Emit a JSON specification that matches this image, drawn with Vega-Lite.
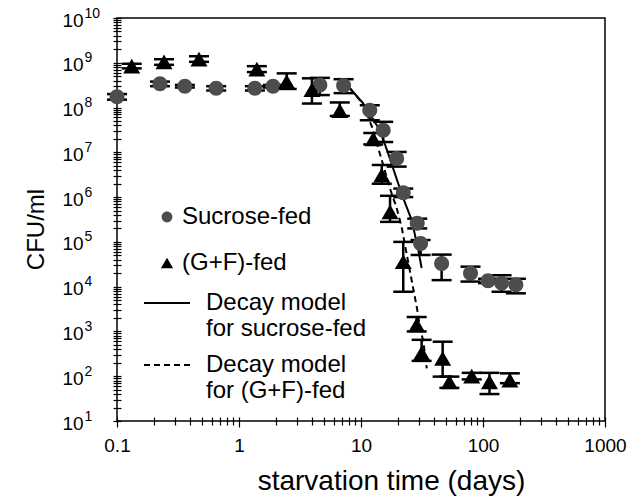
{
  "$schema": "https://vega.github.io/schema/vega-lite/v6.json",
  "width": 488,
  "height": 403,
  "autosize": "none",
  "padding": {"left": 117, "top": 18, "right": 22, "bottom": 79},
  "background": "white",
  "config": {
    "view": {"stroke": "black", "strokeWidth": 1.5},
    "font": "Liberation Sans",
    "legend": {"padding": 0, "labelFont": "Liberation Sans", "labelColor": "black"}
  },
  "datasets": {
    "points": [
      {"group": "Sucrose-fed", "t": 0.1, "cfu": 1.75e8, "lo": 1.5e8, "hi": 2.0e8},
      {"group": "Sucrose-fed", "t": 0.225, "cfu": 3.4e8, "lo": 3.0e8, "hi": 3.8e8},
      {"group": "Sucrose-fed", "t": 0.36, "cfu": 3.0e8, "lo": 2.8e8, "hi": 3.2e8},
      {"group": "Sucrose-fed", "t": 0.65, "cfu": 2.7e8, "lo": 2.4e8, "hi": 3.0e8},
      {"group": "Sucrose-fed", "t": 1.35, "cfu": 2.7e8, "lo": 2.4e8, "hi": 3.0e8},
      {"group": "Sucrose-fed", "t": 1.9, "cfu": 3.0e8, "lo": 2.8e8, "hi": 3.2e8},
      {"group": "Sucrose-fed", "t": 4.6, "cfu": 3.2e8, "lo": 1.9e8, "hi": 4.6e8},
      {"group": "Sucrose-fed", "t": 7.2, "cfu": 3.1e8, "lo": 2.1e8, "hi": 4.3e8},
      {"group": "Sucrose-fed", "t": 11.8, "cfu": 8.7e7, "lo": 5.2e7, "hi": 1.13e8},
      {"group": "Sucrose-fed", "t": 15.2, "cfu": 3.1e7, "lo": 1.7e7, "hi": 4.8e7},
      {"group": "Sucrose-fed", "t": 19.6, "cfu": 7.3e6, "lo": 4.8e6, "hi": 1.02e7},
      {"group": "Sucrose-fed", "t": 22.2, "cfu": 1.25e6, "lo": 1.0e6, "hi": 1.55e6},
      {"group": "Sucrose-fed", "t": 28.9, "cfu": 2.6e5, "lo": 2.0e5, "hi": 3.3e5},
      {"group": "Sucrose-fed", "t": 30.8, "cfu": 9.2e4, "lo": 5.1e4, "hi": 1.1e5},
      {"group": "Sucrose-fed", "t": 45.8, "cfu": 3.3e4, "lo": 1.4e4, "hi": 5.2e4},
      {"group": "Sucrose-fed", "t": 79, "cfu": 2.0e4, "lo": 1.3e4, "hi": 2.8e4},
      {"group": "Sucrose-fed", "t": 110, "cfu": 1.35e4, "lo": 1.2e4, "hi": 1.5e4},
      {"group": "Sucrose-fed", "t": 142, "cfu": 1.2e4, "lo": 7.7e3, "hi": 1.8e4},
      {"group": "Sucrose-fed", "t": 186, "cfu": 1.1e4, "lo": 7.1e3, "hi": 1.5e4},
      {"group": "(G+F)-fed", "t": 0.132, "cfu": 8.4e8, "lo": 7.5e8, "hi": 9.5e8},
      {"group": "(G+F)-fed", "t": 0.243, "cfu": 1.05e9, "lo": 9.0e8, "hi": 1.2e9},
      {"group": "(G+F)-fed", "t": 0.47, "cfu": 1.2e9, "lo": 1.05e9, "hi": 1.4e9},
      {"group": "(G+F)-fed", "t": 1.4, "cfu": 7.2e8, "lo": 6.2e8, "hi": 8.4e8},
      {"group": "(G+F)-fed", "t": 2.46, "cfu": 3.8e8, "lo": 2.6e8, "hi": 5.8e8},
      {"group": "(G+F)-fed", "t": 3.96, "cfu": 2.5e8, "lo": 1.23e8, "hi": 4.5e8},
      {"group": "(G+F)-fed", "t": 6.7, "cfu": 8.5e7, "lo": 6.5e7, "hi": 1.3e8},
      {"group": "(G+F)-fed", "t": 12.6, "cfu": 2.0e7, "lo": 1.5e7, "hi": 2.7e7},
      {"group": "(G+F)-fed", "t": 14.8, "cfu": 3.1e6, "lo": 2.0e6, "hi": 5.2e6},
      {"group": "(G+F)-fed", "t": 17.3, "cfu": 4.7e5, "lo": 2.8e5, "hi": 1.07e6},
      {"group": "(G+F)-fed", "t": 22.2, "cfu": 3.6e4, "lo": 7.7e3, "hi": 1.0e5},
      {"group": "(G+F)-fed", "t": 28.6, "cfu": 1400, "lo": 1000, "hi": 2100},
      {"group": "(G+F)-fed", "t": 31.4, "cfu": 330, "lo": 220, "hi": 650},
      {"group": "(G+F)-fed", "t": 46.7, "cfu": 250, "lo": 98, "hi": 590},
      {"group": "(G+F)-fed", "t": 53, "cfu": 75, "lo": 55, "hi": 98},
      {"group": "(G+F)-fed", "t": 80.8, "cfu": 100, "lo": 85, "hi": 119},
      {"group": "(G+F)-fed", "t": 113, "cfu": 75, "lo": 40, "hi": 119},
      {"group": "(G+F)-fed", "t": 166, "cfu": 82, "lo": 70, "hi": 116}
    ],
    "lines": [
      {"model": "Decay model for sucrose-fed", "t": 8.1, "cfu": 2.7e8},
      {"model": "Decay model for sucrose-fed", "t": 10.4, "cfu": 1.25e8},
      {"model": "Decay model for sucrose-fed", "t": 14.3, "cfu": 3.1e7},
      {"model": "Decay model for sucrose-fed", "t": 16.7, "cfu": 9.4e6},
      {"model": "Decay model for sucrose-fed", "t": 20.2, "cfu": 2.0e6},
      {"model": "Decay model for sucrose-fed", "t": 22.5, "cfu": 8.6e5},
      {"model": "Decay model for sucrose-fed", "t": 26, "cfu": 3.1e5},
      {"model": "Decay model for sucrose-fed", "t": 29.5, "cfu": 6.6e4},
      {"model": "Decay model for sucrose-fed", "t": 31.4, "cfu": 2.6e4},
      {"model": "Decay model for (G+F)-fed", "t": 8.1, "cfu": 2.7e8},
      {"model": "Decay model for (G+F)-fed", "t": 10.4, "cfu": 1.2e8},
      {"model": "Decay model for (G+F)-fed", "t": 12.3, "cfu": 3.7e7},
      {"model": "Decay model for (G+F)-fed", "t": 14.8, "cfu": 6.7e6},
      {"model": "Decay model for (G+F)-fed", "t": 17.5, "cfu": 1.4e6},
      {"model": "Decay model for (G+F)-fed", "t": 19.5, "cfu": 6.0e5},
      {"model": "Decay model for (G+F)-fed", "t": 21.5, "cfu": 2.2e5},
      {"model": "Decay model for (G+F)-fed", "t": 23.5, "cfu": 6.0e4},
      {"model": "Decay model for (G+F)-fed", "t": 26, "cfu": 1.4e4},
      {"model": "Decay model for (G+F)-fed", "t": 28.6, "cfu": 3600},
      {"model": "Decay model for (G+F)-fed", "t": 30.5, "cfu": 1200},
      {"model": "Decay model for (G+F)-fed", "t": 32.4, "cfu": 600},
      {"model": "Decay model for (G+F)-fed", "t": 34.6, "cfu": 150}
    ]
  },
  "encoding": {
    "x": {
      "field": "t",
      "type": "quantitative",
      "scale": {"type": "log", "domain": [0.1, 1000], "nice": false},
      "axis": {
        "title": "starvation time (days)",
        "titleFont": "Liberation Sans",
        "titleFontSize": 28,
        "titleFontWeight": "normal",
        "titleColor": "black",
        "titlePadding": 12,
        "titleX": 274,
        "titleAlign": "center",
        "values": [0.1, 0.2, 0.3, 0.4, 0.5, 0.6, 0.7, 0.8, 0.9, 1, 2, 3, 4, 5, 6, 7, 8, 9, 10, 20, 30, 40, 50, 60, 70, 80, 90, 100, 200, 300, 400, 500, 600, 700, 800, 900, 1000],
        "labelExpr": "indexof([0.1, 1, 10, 100, 1000], datum.value) >= 0 ? format(datum.value, '~g') : ''",
        "labelOverlap": false,
        "labelBound": false,
        "labelFlush": false,
        "labelFont": "Liberation Sans",
        "labelFontSize": 19,
        "labelColor": "black",
        "labelPadding": 9,
        "domain": false,
        "offset": -4,
        "tickSize": {"condition": {"test": "indexof([0.1, 1, 10, 100, 1000], datum.value) >= 0", "value": 10}, "value": 8},
        "tickColor": "black",
        "tickWidth": 1.2,
        "grid": false
      }
    }
  },
  "layer": [
    {
      "data": {"name": "points"},
      "mark": {"type": "rule", "color": "black", "strokeWidth": 2.5},
      "encoding": {
        "y": {
          "field": "lo",
          "type": "quantitative",
          "scale": {"type": "log", "domain": [10, 1e10], "nice": false},
          "axis": {
            "orient": "left",
            "title": "CFU/ml",
            "titleFont": "Liberation Sans",
            "titleFontSize": 24,
            "titleFontWeight": "normal",
            "titleColor": "black",
            "titlePadding": 14,
            "titleY": 211,
            "values": [10, 20, 30, 40, 50, 60, 70, 80, 90, 100, 200, 300, 400, 500, 600, 700, 800, 900, 1000, 2000, 3000, 4000, 5000, 6000, 7000, 8000, 9000, 1e4, 2e4, 3e4, 4e4, 5e4, 6e4, 7e4, 8e4, 9e4, 1e5, 2e5, 3e5, 4e5, 5e5, 6e5, 7e5, 8e5, 9e5, 1e6, 2e6, 3e6, 4e6, 5e6, 6e6, 7e6, 8e6, 9e6, 1e7, 2e7, 3e7, 4e7, 5e7, 6e7, 7e7, 8e7, 9e7, 1e8, 2e8, 3e8, 4e8, 5e8, 6e8, 7e8, 8e8, 9e8, 1e9, 2e9, 3e9, 4e9, 5e9, 6e9, 7e9, 8e9, 9e9, 1e10],
            "labelExpr": "abs(datum.value / pow(10, round(log(datum.value) / LN10)) - 1) < 1e-6 ? '10' : ''",
            "labelOverlap": false,
            "labelBound": false,
            "labelFlush": false,
            "labelAlign": "left",
            "labelFont": "Liberation Sans",
            "labelFontSize": 19,
            "labelColor": "black",
            "labelPadding": 51,
            "labelOffset": 2,
            "domain": false,
            "offset": -4,
            "tickSize": 8,
            "tickColor": "black",
            "tickWidth": 1.2,
            "grid": false
          }
        },
        "y2": {"field": "hi"}
      }
    },
    {
      "data": {"name": "points"},
      "mark": {"type": "tick", "orient": "horizontal", "size": 20, "thickness": 2.5, "color": "black", "opacity": 1},
      "encoding": {
        "y": {"field": "lo", "type": "quantitative", "scale": {"type": "log", "domain": [10, 1e10], "nice": false}, "axis": null}
      }
    },
    {
      "data": {"name": "points"},
      "mark": {"type": "tick", "orient": "horizontal", "size": 20, "thickness": 2.5, "color": "black", "opacity": 1},
      "encoding": {
        "y": {"field": "hi", "type": "quantitative", "scale": {"type": "log", "domain": [10, 1e10], "nice": false}, "axis": null}
      }
    },
    {
      "data": {"name": "lines"},
      "mark": {"type": "line", "color": "black", "strokeWidth": 2},
      "encoding": {
        "y": {"field": "cfu", "type": "quantitative", "scale": {"type": "log", "domain": [10, 1e10], "nice": false}, "axis": null},
        "strokeDash": {
          "field": "model",
          "type": "nominal",
          "scale": {"domain": ["Decay model for sucrose-fed", "Decay model for (G+F)-fed"], "range": [[1, 0], [6, 4]]},
          "legend": {
            "orient": "none",
            "legendX": 26,
            "legendY": 261,
            "title": null,
            "symbolType": "stroke",
            "symbolSize": 2116,
            "symbolStrokeWidth": 2,
            "symbolStrokeColor": "black",
            "labelFontSize": 24,
            "labelExpr": "['Decay model', replace(datum.label, 'Decay model ', '')]",
            "labelOffset": 15,
            "labelLimit": 400,
            "rowPadding": -9
          }
        }
      }
    },
    {
      "data": {"name": "points"},
      "mark": {"type": "point", "filled": true, "opacity": 1, "strokeWidth": 0, "size": 289},
      "encoding": {
        "y": {
          "field": "cfu",
          "type": "quantitative",
          "scale": {"type": "log", "domain": [10, 1e10], "nice": false},
          "axis": {
            "orient": "left",
            "title": null,
            "values": [10, 100, 1000, 1e4, 1e5, 1e6, 1e7, 1e8, 1e9, 1e10],
            "labelExpr": "format(round(log(datum.value) / LN10), 'd')",
            "labelOverlap": false,
            "labelBound": false,
            "labelFlush": false,
            "labelAlign": "left",
            "labelFont": "Liberation Sans",
            "labelFontSize": 14,
            "labelColor": "black",
            "labelPadding": 37,
            "labelOffset": -5,
            "domain": false,
            "ticks": false,
            "tickSize": 0,
            "offset": -4,
            "grid": false
          }
        },
        "shape": {
          "field": "group",
          "type": "nominal",
          "scale": {"domain": ["Sucrose-fed", "(G+F)-fed"], "range": ["M0,-0.88A0.88,0.88,0,1,1,0,0.88A0.88,0.88,0,1,1,0,-0.88Z", "triangle-up"]},
          "legend": {
            "orient": "none",
            "legendX": 38,
            "legendY": 187,
            "title": null,
            "symbolSize": 150,
            "symbolStrokeWidth": 0,
            "labelFontSize": 24,
            "labelOffset": 3,
            "labelLimit": 400,
            "rowPadding": 22
          }
        },
        "fill": {
          "field": "group",
          "type": "nominal",
          "scale": {"domain": ["Sucrose-fed", "(G+F)-fed"], "range": ["#4d4d4d", "#000000"]},
          "legend": {
            "orient": "none",
            "legendX": 38,
            "legendY": 187,
            "title": null,
            "symbolSize": 150,
            "symbolStrokeWidth": 0,
            "labelFontSize": 24,
            "labelOffset": 3,
            "labelLimit": 400,
            "rowPadding": 22
          }
        }
      }
    }
  ],
  "resolve": {"axis": {"y": "independent"}}
}
